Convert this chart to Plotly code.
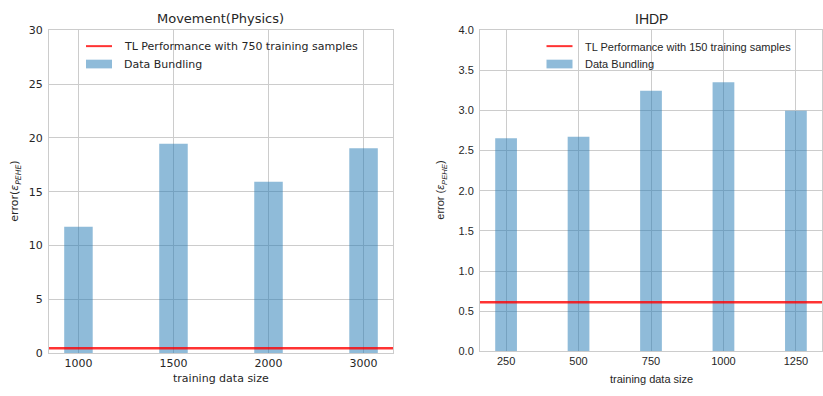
import plotly.graph_objects as go

W, H = 823, 396

# ---- data ----
left_categories = ["1000", "1500", "2000", "3000"]
left_values = [11.75, 19.45, 15.93, 19.04]
left_tl_value = 0.45
left_title = "Movement(Physics)"
left_tl_label = "TL Performance with 750 training samples"

right_categories = ["250", "500", "750", "1000", "1250"]
right_values = [2.655, 2.672, 3.245, 3.35, 2.997]
right_tl_value = 0.61
right_title = "IHDP"
right_tl_label = "TL Performance with 150 training samples"

bar_label = "Data Bundling"
x_title = "training data size"

# ---- style ----
BAR = "rgba(31,119,180,0.5)"
RED = "rgba(255,0,0,0.8)"
GRID = "#cccccc"
TXT = "#262626"
DJ = "DejaVu Sans"
LIB = "Liberation Sans"


def px(x):
    return x / W


def py(y):
    return (H - y) / H


fig = go.Figure()
fig.add_trace(go.Bar(x=left_categories, y=left_values, width=0.3,
                     marker=dict(color=BAR, line=dict(width=0)),
                     xaxis="x", yaxis="y", showlegend=False, hoverinfo="skip"))
fig.add_trace(go.Bar(x=right_categories, y=right_values, width=0.3,
                     marker=dict(color=BAR, line=dict(width=0)),
                     xaxis="x2", yaxis="y2", showlegend=False, hoverinfo="skip"))

shapes = [
    dict(type="line", xref="x domain", yref="y", x0=0, x1=1,
         y0=left_tl_value, y1=left_tl_value, line=dict(color=RED, width=2.5)),
    dict(type="line", xref="x2 domain", yref="y2", x0=0, x1=1,
         y0=right_tl_value, y1=right_tl_value, line=dict(color=RED, width=2.5)),
]
annotations = []


def legend(x0, font, tl_label):
    shapes.append(dict(type="line", xref="paper", yref="paper",
                       x0=px(x0), x1=px(x0 + 26), y0=py(41.5), y1=py(41.5),
                       line=dict(color=RED, width=2)))
    shapes.append(dict(type="rect", xref="paper", yref="paper",
                       x0=px(x0), x1=px(x0 + 26), y0=py(64.5), y1=py(55.5),
                       fillcolor=BAR, line=dict(width=0)))
    annotations.append(dict(xref="paper", yref="paper", x=px(x0 + 36), y=py(42),
                            text=tl_label, showarrow=False, xanchor="left",
                            yanchor="middle", font=dict(family=font, size=11, color=TXT)))
    annotations.append(dict(xref="paper", yref="paper", x=px(x0 + 36), y=py(60),
                            text=bar_label, showarrow=False, xanchor="left",
                            yanchor="middle", font=dict(family=font, size=11, color=TXT)))


legend(86, DJ, left_tl_label)
legend(546.5, LIB, right_tl_label)

# titles
annotations.append(dict(xref="paper", yref="paper", x=px(221), y=py(13), text=left_title,
                        showarrow=False, xanchor="center", yanchor="middle",
                        font=dict(family=DJ, size=13, color=TXT)))
annotations.append(dict(xref="paper", yref="paper", x=px(651), y=py(13), text=right_title,
                        showarrow=False, xanchor="center", yanchor="middle",
                        font=dict(family=LIB, size=14, color=TXT)))
# x titles
annotations.append(dict(xref="paper", yref="paper", x=px(221), y=py(385), text=x_title,
                        showarrow=False, xanchor="center", yanchor="middle",
                        font=dict(family=DJ, size=11, color=TXT)))
annotations.append(dict(xref="paper", yref="paper", x=px(651), y=py(386), text=x_title,
                        showarrow=False, xanchor="center", yanchor="middle",
                        font=dict(family=LIB, size=11, color=TXT)))
# y titles
annotations.append(dict(xref="paper", yref="paper", x=px(15), y=py(192),
                        text="error(<i>ε</i><sub><i>PEHE</i></sub>)", textangle=-90,
                        showarrow=False, xanchor="center", yanchor="middle",
                        font=dict(family=DJ, size=11, color=TXT)))
annotations.append(dict(xref="paper", yref="paper", x=px(441), y=py(191),
                        text="error (<i>ε</i><sub><i>PEHE</i></sub>)", textangle=-90,
                        showarrow=False, xanchor="center", yanchor="middle",
                        font=dict(family=LIB, size=11, color=TXT)))

axis_common = dict(showgrid=True, gridcolor=GRID, gridwidth=1, showline=True,
                   linecolor=GRID, linewidth=1, mirror=True, ticks="", zeroline=False)

fig.update_layout(
    width=W, height=H, margin=dict(l=0, r=0, t=0, b=0),
    plot_bgcolor="white", paper_bgcolor="white", showlegend=False,
    hovermode=False,
    xaxis=dict(domain=[px(49), px(393)], anchor="y", type="category",
               range=[-0.31, 3.31], tickfont=dict(family=DJ, size=11, color=TXT),
               **axis_common),
    yaxis=dict(domain=[py(359), py(25)], anchor="x", range=[0, 30], dtick=5,
               ticklabelstandoff=3,
               tickfont=dict(family=DJ, size=11, color=TXT), **axis_common),
    xaxis2=dict(domain=[px(480), px(822)], anchor="y2", type="category",
                range=[-0.36, 4.36], tickfont=dict(family=LIB, size=11, color=TXT),
                **axis_common),
    yaxis2=dict(domain=[py(357), py(25)], anchor="x2", range=[0, 4], dtick=0.5,
                tickformat=".1f", ticklabelstandoff=3,
                tickfont=dict(family=LIB, size=11, color=TXT), **axis_common),
    shapes=shapes, annotations=annotations,
)

fig.write_html(
    "out.html",
    config={"displayModeBar": False, "staticPlot": True},
    post_script="document.body.style.margin='0';document.body.style.overflow='hidden';",
)
